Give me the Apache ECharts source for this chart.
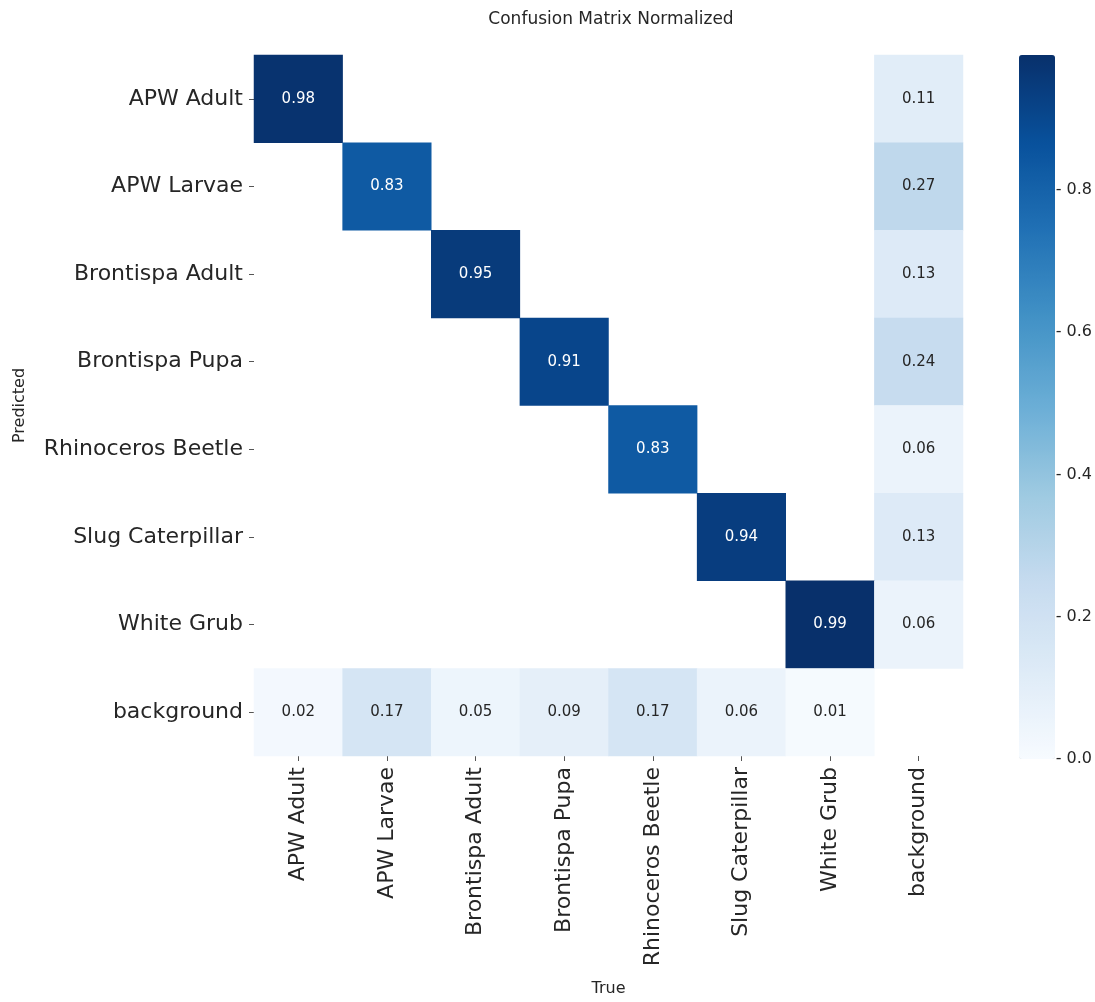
<!DOCTYPE html>
<html>
<head>
<meta charset="utf-8">
<script src="https://cdn.jsdelivr.net/npm/echarts@6/dist/echarts.min.js"></script>
<style>html,body{margin:0;padding:0;background:#fff}#c{width:1095px;height:1002px}</style>
</head>
<body>
<div id="c"></div>
<script>
const trueLabels = ['APW Adult','APW Larvae','Brontispa Adult','Brontispa Pupa','Rhinoceros Beetle','Slug Caterpillar','White Grub','background'];
const predLabels = ['APW Adult','APW Larvae','Brontispa Adult','Brontispa Pupa','Rhinoceros Beetle','Slug Caterpillar','White Grub','background'];
// rows = predicted, cols = true; null = blank cell
const rowAPWAdult        = [0.98, null, null, null, null, null, null, 0.11];
const rowAPWLarvae       = [null, 0.83, null, null, null, null, null, 0.27];
const rowBrontispaAdult  = [null, null, 0.95, null, null, null, null, 0.13];
const rowBrontispaPupa   = [null, null, null, 0.91, null, null, null, 0.24];
const rowRhinoceros      = [null, null, null, null, 0.83, null, null, 0.06];
const rowSlug            = [null, null, null, null, null, 0.94, null, 0.13];
const rowWhiteGrub       = [null, null, null, null, null, null, 0.99, 0.06];
const rowBackground      = [0.02, 0.17, 0.05, 0.09, 0.17, 0.06, 0.01, null];
const matrixRows = [rowAPWAdult,rowAPWLarvae,rowBrontispaAdult,rowBrontispaPupa,rowRhinoceros,rowSlug,rowWhiteGrub,rowBackground];
const colorbarTicks = [0, 0.2, 0.4, 0.6, 0.8];
const colorMax = 0.99;

const blues = ['#f7fbff','#deebf7','#c6dbef','#9ecae1','#6baed6','#4292c6','#2171b5','#08519c','#08306b'];

const data = [];
matrixRows.forEach((row, r) => {
  row.forEach((v, c) => {
    if (v === null) return;
    data.push({
      value: [c, r, v],
      label: { color: v > 0.5 ? '#ffffff' : '#262626' }
    });
  });
});

const FONT = 'DejaVu Sans';
const chart = echarts.init(document.getElementById('c'));
chart.setOption({
  animation: false,
  backgroundColor: '#ffffff',
  title: {
    text: 'Confusion Matrix Normalized',
    left: 606, top: 6, textAlign: 'center',
    textStyle: { fontFamily: FONT, fontSize: 17, fontWeight: 'normal', color: '#262626' }
  },
  grid: [
    { left: 254, top: 55, width: 709, height: 704 },
    { left: 1019, top: 55, width: 36, height: 704 }
  ],
  xAxis: [
    {
      type: 'category', data: trueLabels, gridIndex: 0, position: 'bottom',
      name: 'True', nameLocation: 'middle', nameGap: 225,
      nameTextStyle: { fontFamily: FONT, fontSize: 16, color: '#262626' },
      axisLine: { show: false },
      axisTick: { show: true, alignWithLabel: true, length: 5, lineStyle: { color: '#555' } },
      axisLabel: { rotate: 90, interval: 0, margin: 11, fontFamily: FONT, fontSize: 22, color: '#262626' },
      splitLine: { show: false }
    },
    { type: 'value', gridIndex: 1, show: false, min: 0, max: 1 }
  ],
  yAxis: [
    {
      type: 'category', data: predLabels, gridIndex: 0, inverse: true,
      name: 'Predicted', nameLocation: 'middle', nameGap: 226, nameRotate: 90,
      nameTextStyle: { fontFamily: FONT, fontSize: 16, color: '#262626' },
      axisLine: { show: false },
      axisTick: { show: true, alignWithLabel: true, length: 5, lineStyle: { color: '#555' } },
      axisLabel: { interval: 0, margin: 11, fontFamily: FONT, fontSize: 22, color: '#262626' },
      splitLine: { show: false }
    },
    {
      type: 'value', gridIndex: 1, position: 'right', min: 0, max: colorMax,
      axisLine: { show: false },
      axisTick: { show: false },
      axisLabel: { margin: 3, customValues: colorbarTicks, formatter: v => '- ' + v.toFixed(1), fontFamily: FONT, fontSize: 16, color: '#262626' },
      splitLine: { show: false }
    }
  ],
  visualMap: {
    type: 'continuous', min: 0, max: colorMax, calculable: false, seriesIndex: 0,
    orient: 'vertical', left: 1019, top: 55, itemWidth: 36, itemHeight: 704,
    padding: 0, text: null, showLabel: false,
    inRange: { color: blues }
  },
  series: [{
    type: 'heatmap', xAxisIndex: 0, yAxisIndex: 0,
    data: data,
    label: { show: true, fontFamily: FONT, fontSize: 15, formatter: p => p.value[2].toFixed(2) },
    itemStyle: { borderWidth: 0 },
    emphasis: { disabled: true }
  }]
});
</script>
</body>
</html>
